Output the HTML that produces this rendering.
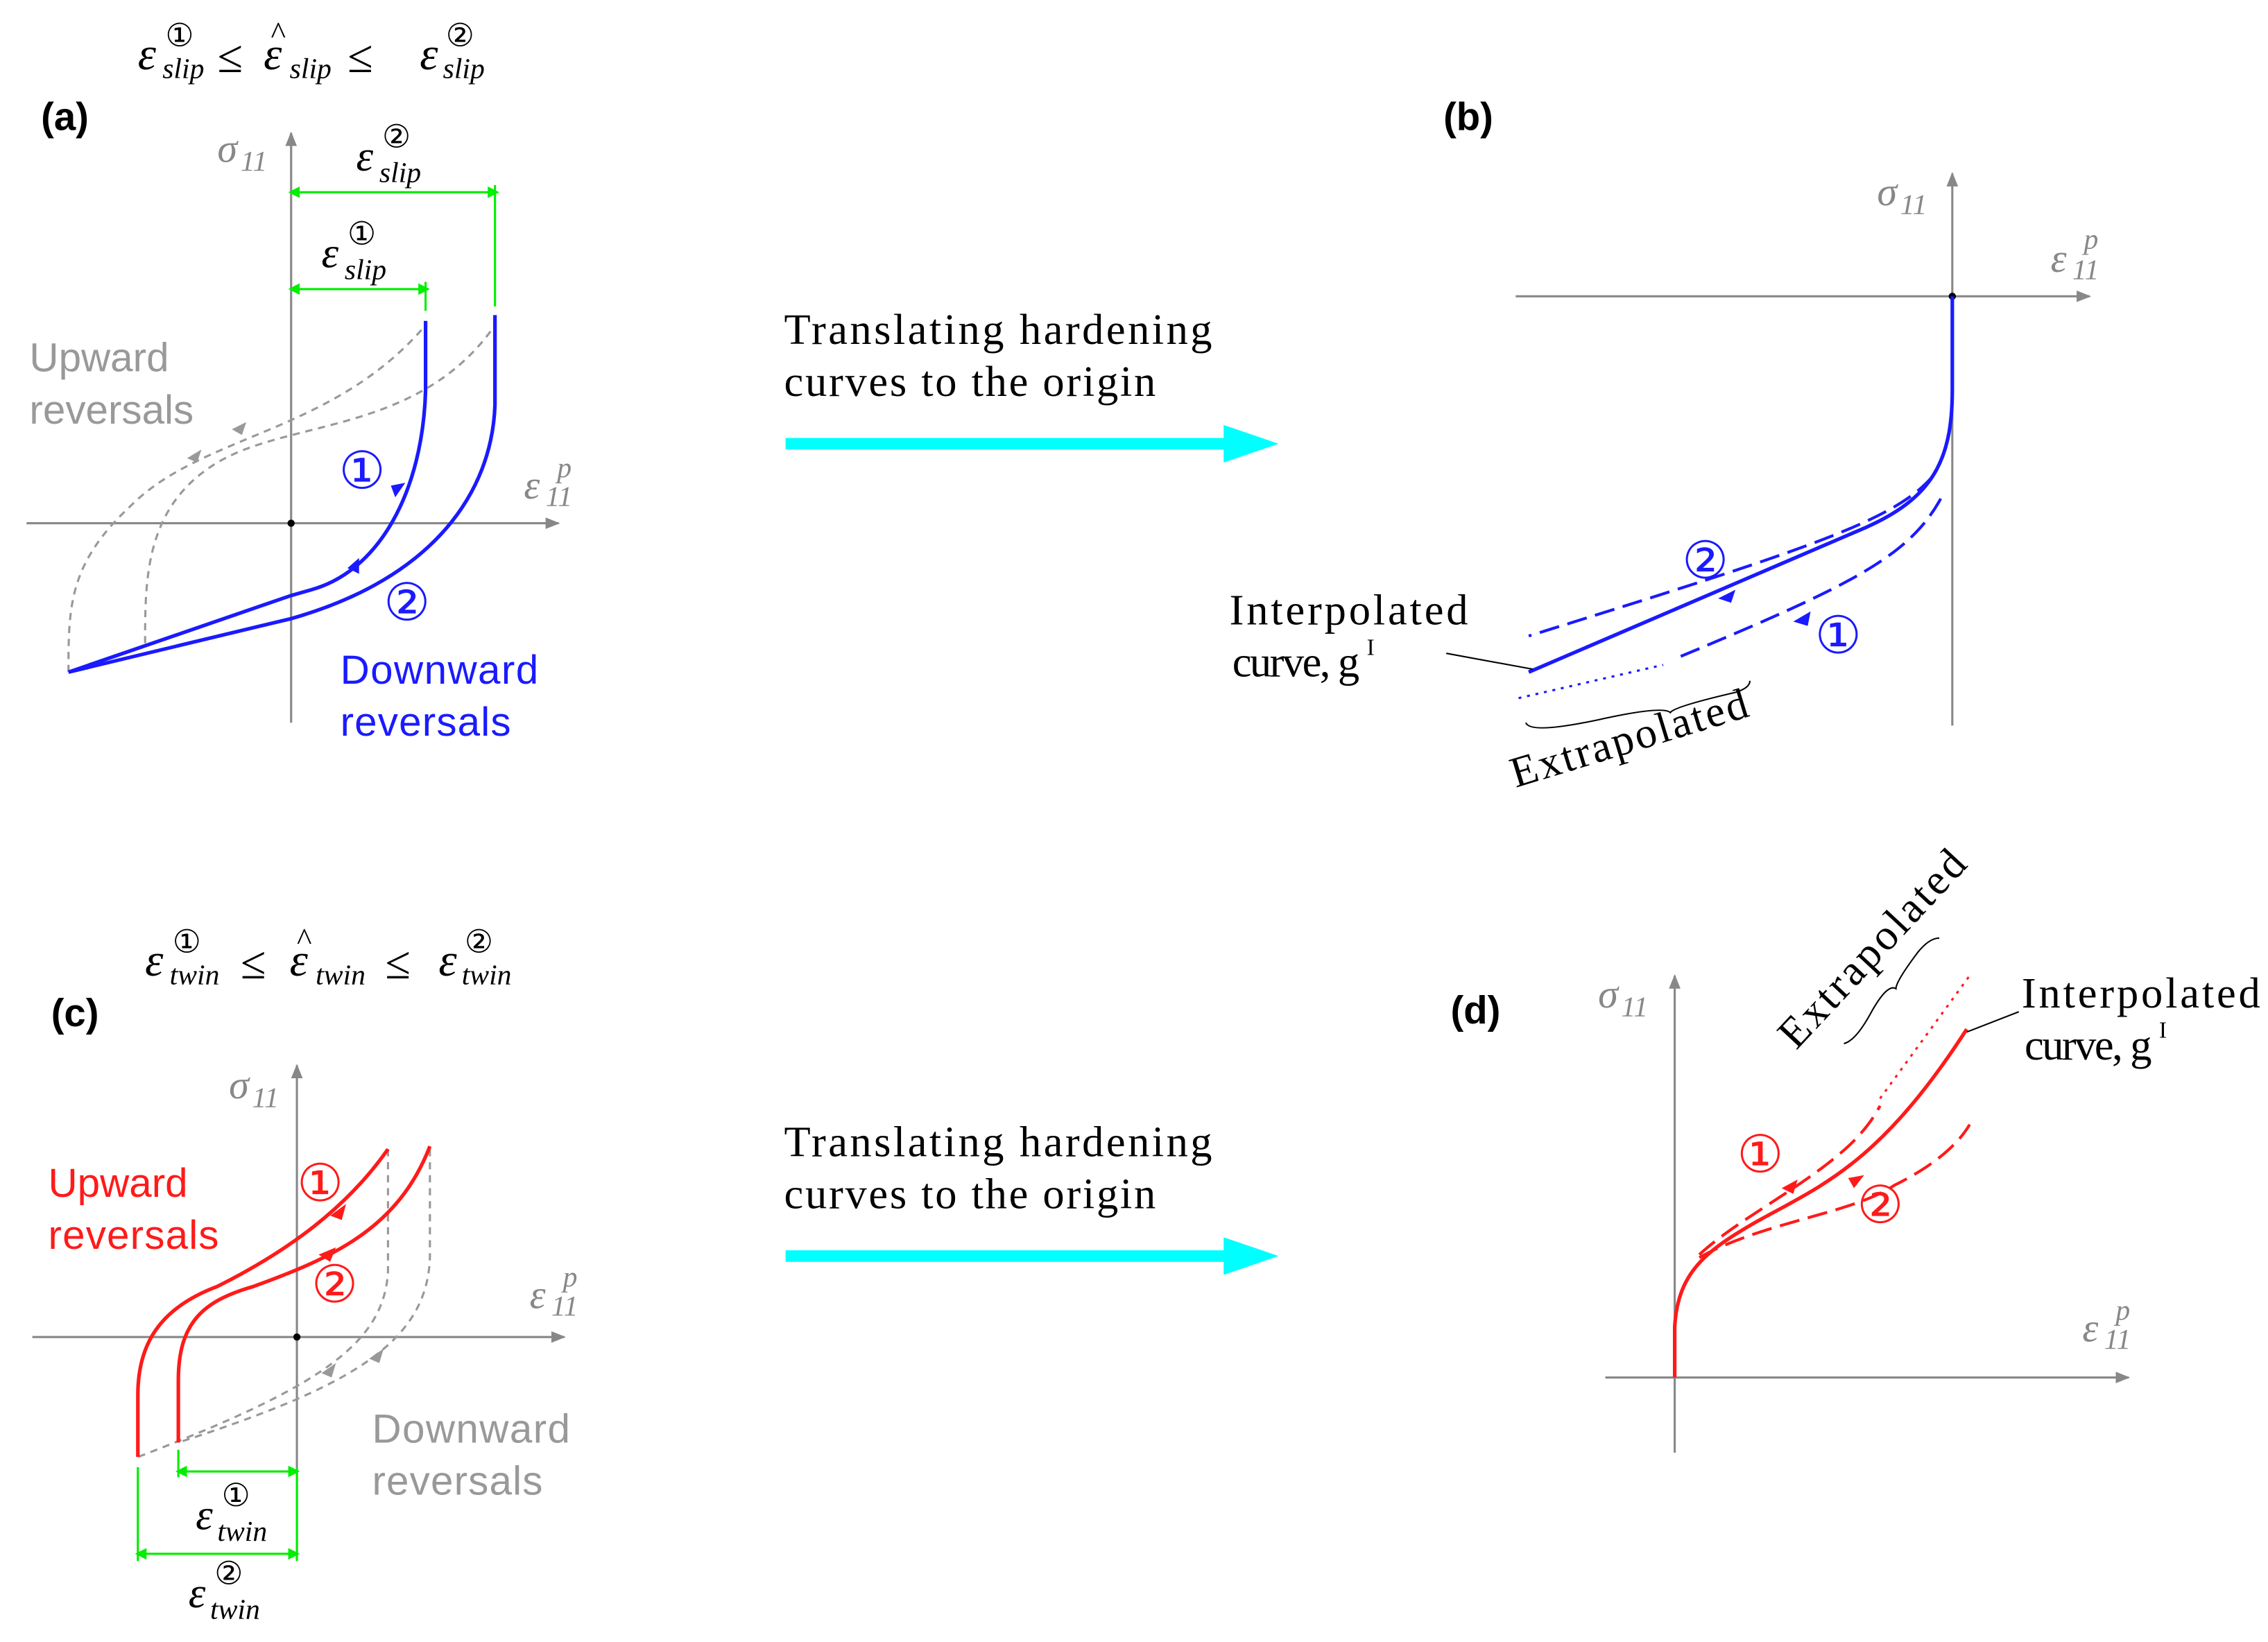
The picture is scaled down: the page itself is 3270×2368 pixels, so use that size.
<!DOCTYPE html>
<html><head><meta charset="utf-8"><style>
html,body{margin:0;padding:0;background:#fff}
svg{display:block}
.m{font-family:"Liberation Serif",serif;font-style:italic}
.s{font-family:"Liberation Sans",sans-serif}
.r{font-family:"Liberation Serif",serif}
.c{font-family:"DejaVu Sans",sans-serif}
</style></head><body>
<svg width="3270" height="2368" viewBox="0 0 1568 1136" xmlns="http://www.w3.org/2000/svg">
<defs>
<marker id="ga" markerWidth="10" markerHeight="10" refX="9" refY="5" orient="auto" markerUnits="userSpaceOnUse"><path d="M0,1 L10,5 L0,9 z" fill="#888"/></marker>
<marker id="gr" markerWidth="8" markerHeight="8" refX="4" refY="4" orient="auto" markerUnits="userSpaceOnUse"><path d="M0,0 L8,4 L0,8 z" fill="#00ee00"/></marker>
<marker id="gl" markerWidth="8" markerHeight="8" refX="4" refY="4" orient="auto-start-reverse" markerUnits="userSpaceOnUse"><path d="M0,0 L8,4 L0,8 z" fill="#00ee00"/></marker>
</defs>
<!-- ===== (a) ===== -->
<text x="95" y="48" class="m" font-size="32">ε</text><text x="114" y="32" class="c" font-size="22">①</text><text x="112" y="54" class="m" font-size="20">slip</text>
<text x="150" y="50" class="r" font-size="32">≤</text>
<text x="182" y="48" class="m" font-size="32">ε</text><text x="187" y="30" class="r" font-size="22">^</text><text x="200" y="54" class="m" font-size="20">slip</text>
<text x="240" y="50" class="r" font-size="32">≤</text>
<text x="290" y="48" class="m" font-size="32">ε</text><text x="308" y="32" class="c" font-size="22">②</text><text x="306" y="54" class="m" font-size="20">slip</text>
<text x="28" y="90" class="s" font-size="27" font-weight="bold">(a)</text>
<line x1="201" y1="500" x2="201" y2="92" stroke="#888" stroke-width="1.5" marker-end="url(#ga)"/>
<line x1="18" y1="362" x2="386" y2="362" stroke="#888" stroke-width="1.5" marker-end="url(#ga)"/>
<circle cx="201" cy="362" r="2.5" fill="#000"/>
<text x="150" y="112" class="m" font-size="28" fill="#888">σ</text><text x="166" y="118" class="m" font-size="20" fill="#888">11</text>
<text x="362" y="345" class="m" font-size="28" fill="#888">ε</text><text x="377" y="350" class="m" font-size="20" fill="#888">11</text><text x="385" y="330" class="m" font-size="20" fill="#888">p</text>
<line x1="203" y1="133" x2="341" y2="133" stroke="#00ee00" stroke-width="1.5" marker-start="url(#gl)" marker-end="url(#gr)"/>
<line x1="342" y1="128" x2="342" y2="212" stroke="#00ee00" stroke-width="1.5"/>
<line x1="203" y1="200" x2="293" y2="200" stroke="#00ee00" stroke-width="1.5" marker-start="url(#gl)" marker-end="url(#gr)"/>
<line x1="294" y1="195" x2="294" y2="215" stroke="#00ee00" stroke-width="1.5"/>
<text x="246" y="118" class="m" font-size="30">ε</text><text x="264" y="102" class="c" font-size="22">②</text><text x="262" y="126" class="m" font-size="20">slip</text>
<text x="222" y="185" class="m" font-size="30">ε</text><text x="240" y="169" class="c" font-size="22">①</text><text x="238" y="193" class="m" font-size="20">slip</text>
<path d="M47,465 C47,420 47,390 90,350 C140,300 230,300 294,225" fill="none" stroke="#999" stroke-width="1.5" stroke-dasharray="5,4"/>
<path d="M100,445 C100,400 100,350 150,320 C200,290 290,300 342,225" fill="none" stroke="#999" stroke-width="1.5" stroke-dasharray="5,4"/>
<path d="M129,317 l10,-6 l-3,9 z" fill="#999"/><path d="M160,297 l10,-5 l-3,9 z" fill="#999"/>
<path d="M294,222 L294,270 C292,340 262,395 215,408 L201,412 L47,465" fill="none" stroke="#1a1aff" stroke-width="2.5"/>
<path d="M342,218 L342,280 C340,340 300,400 201,428 L47,465" fill="none" stroke="#1a1aff" stroke-width="2.5"/>
<path d="M270,336 l10,-2 l-7,10 z" fill="#1a1aff"/><path d="M240,393 l8,-7 l0,11 z" fill="#1a1aff"/>
<text x="234" y="338" class="c" font-size="36" fill="#1a1aff">①</text>
<text x="265" y="429" class="c" font-size="36" fill="#1a1aff">②</text>
<text x="20" y="257" class="s" font-size="28" fill="#999">Upward</text><text x="20" y="293" class="s" font-size="28" fill="#999">reversals</text>
<text x="235" y="473" class="s" font-size="28" fill="#1a1aff" textLength="137">Downward</text><text x="235" y="509" class="s" font-size="28" fill="#1a1aff" textLength="118">reversals</text>
<!-- middle arrows -->
<text x="542" y="238" class="r" font-size="30" textLength="296">Translating hardening</text><text x="542" y="274" class="r" font-size="30" textLength="257">curves to the origin</text>
<rect x="543" y="303" width="305" height="8" fill="#00ffff"/><path d="M846,294 L884,307 L846,320 z" fill="#00ffff"/>
<text x="542" y="800" class="r" font-size="30" textLength="296">Translating hardening</text><text x="542" y="836" class="r" font-size="30" textLength="257">curves to the origin</text>
<rect x="543" y="865" width="305" height="8" fill="#00ffff"/><path d="M846,856 L884,869 L846,882 z" fill="#00ffff"/>
<!-- ===== (b) ===== -->
<text x="998" y="90" class="s" font-size="27" font-weight="bold">(b)</text>
<line x1="1048" y1="205" x2="1445" y2="205" stroke="#888" stroke-width="1.5" marker-end="url(#ga)"/>
<line x1="1350" y1="502" x2="1350" y2="120" stroke="#888" stroke-width="1.5" marker-end="url(#ga)"/>
<circle cx="1350" cy="205" r="2.5" fill="#000"/>
<text x="1298" y="142" class="m" font-size="28" fill="#888">σ</text><text x="1314" y="148" class="m" font-size="20" fill="#888">11</text>
<text x="1418" y="188" class="m" font-size="28" fill="#888">ε</text><text x="1433" y="193" class="m" font-size="20" fill="#888">11</text><text x="1441" y="172" class="m" font-size="20" fill="#888">p</text>
<path d="M1350,205 L1350,270 C1350,320 1335,345 1290,365 L1057,465" fill="none" stroke="#1a1aff" stroke-width="2.5"/>
<path d="M1336,330 C1310,360 1250,380 1057,440" fill="none" stroke="#1a1aff" stroke-width="2" stroke-dasharray="14,6"/>
<path d="M1342,345 C1320,385 1280,405 1160,455" fill="none" stroke="#1a1aff" stroke-width="2" stroke-dasharray="14,6"/>
<line x1="1050" y1="483" x2="1150" y2="460" stroke="#1a1aff" stroke-width="1.5" stroke-dasharray="2,4"/>
<path d="M1188,414 l12,-6 l-3,9 z" fill="#1a1aff"/><path d="M1240,430 l12,-7 l-2,10 z" fill="#1a1aff"/>
<text x="1163" y="400" class="c" font-size="36" fill="#1a1aff">②</text>
<text x="1255" y="452" class="c" font-size="36" fill="#1a1aff">①</text>
<text x="850" y="432" class="r" font-size="30" textLength="165">Interpolated</text><text x="852" y="468" class="r" font-size="30" textLength="88">curve, g</text><text x="945" y="453" class="r" font-size="16">I</text>
<line x1="1000" y1="452" x2="1060" y2="463" stroke="#000" stroke-width="1"/>
<path d="M1055,500 q3,8 50,-2 q45,-10 50,-5 q2,-4 45,-14 q10,-3 10,-8" fill="none" stroke="#000" stroke-width="1"/>
<text x="1048" y="545" class="r" font-size="30" textLength="170" transform="rotate(-17 1048 545)">Extrapolated</text>
<!-- ===== (c) ===== -->
<text x="100" y="675" class="m" font-size="32">ε</text><text x="119" y="659" class="c" font-size="22">①</text><text x="117" y="681" class="m" font-size="20">twin</text>
<text x="166" y="677" class="r" font-size="32">≤</text>
<text x="200" y="675" class="m" font-size="32">ε</text><text x="205" y="657" class="r" font-size="22">^</text><text x="218" y="681" class="m" font-size="20">twin</text>
<text x="266" y="677" class="r" font-size="32">≤</text>
<text x="303" y="675" class="m" font-size="32">ε</text><text x="321" y="659" class="c" font-size="22">②</text><text x="319" y="681" class="m" font-size="20">twin</text>
<text x="35" y="710" class="s" font-size="27" font-weight="bold">(c)</text>
<line x1="205" y1="1075" x2="205" y2="737" stroke="#888" stroke-width="1.5" marker-end="url(#ga)"/>
<line x1="22" y1="925" x2="390" y2="925" stroke="#888" stroke-width="1.5" marker-end="url(#ga)"/>
<circle cx="205" cy="925" r="2.5" fill="#000"/>
<text x="158" y="760" class="m" font-size="28" fill="#888">σ</text><text x="174" y="766" class="m" font-size="20" fill="#888">11</text>
<text x="366" y="905" class="m" font-size="28" fill="#888">ε</text><text x="381" y="910" class="m" font-size="20" fill="#888">11</text><text x="389" y="890" class="m" font-size="20" fill="#888">p</text>
<path d="M268,795 L268,880 C265,930 220,960 95,1008" fill="none" stroke="#999" stroke-width="1.5" stroke-dasharray="5,4"/>
<path d="M297,795 L297,870 C295,930 240,960 123,998" fill="none" stroke="#999" stroke-width="1.5" stroke-dasharray="5,4"/>
<path d="M222,950 l10,-7 l-3,10 z" fill="#999"/><path d="M255,940 l10,-7 l-3,10 z" fill="#999"/>
<path d="M95,1008 L95,965 C95,930 110,905 150,890 C200,865 240,835 268,795" fill="none" stroke="#ff1a1a" stroke-width="2.5"/>
<path d="M123,998 L123,955 C123,915 140,900 175,890 C230,870 275,850 297,793" fill="none" stroke="#ff1a1a" stroke-width="2.5"/>
<path d="M228,841 l11,-8 l-3,11 z" fill="#ff1a1a"/><path d="M220,868 l12,-5 l-4,10 z" fill="#ff1a1a"/>
<text x="205" y="831" class="c" font-size="36" fill="#ff1a1a">①</text>
<text x="215" y="901" class="c" font-size="36" fill="#ff1a1a">②</text>
<text x="33" y="828" class="s" font-size="28" fill="#ff1a1a">Upward</text><text x="33" y="864" class="s" font-size="28" fill="#ff1a1a" textLength="118">reversals</text>
<text x="257" y="998" class="s" font-size="28" fill="#999" textLength="137">Downward</text><text x="257" y="1034" class="s" font-size="28" fill="#999" textLength="118">reversals</text>
<line x1="95" y1="1015" x2="95" y2="1080" stroke="#00ee00" stroke-width="1.5"/>
<line x1="205" y1="1015" x2="205" y2="1080" stroke="#00ee00" stroke-width="1.5"/>
<line x1="123" y1="1003" x2="123" y2="1022" stroke="#00ee00" stroke-width="1.5"/>
<line x1="125" y1="1018" x2="203" y2="1018" stroke="#00ee00" stroke-width="1.5" marker-start="url(#gl)" marker-end="url(#gr)"/>
<line x1="97" y1="1075" x2="203" y2="1075" stroke="#00ee00" stroke-width="1.5" marker-start="url(#gl)" marker-end="url(#gr)"/>
<text x="135" y="1058" class="m" font-size="30">ε</text><text x="153" y="1042" class="c" font-size="22">①</text><text x="150" y="1066" class="m" font-size="20">twin</text>
<text x="130" y="1112" class="m" font-size="30">ε</text><text x="148" y="1096" class="c" font-size="22">②</text><text x="145" y="1120" class="m" font-size="20">twin</text>
<!-- ===== (d) ===== -->
<text x="1003" y="708" class="s" font-size="27" font-weight="bold">(d)</text>
<line x1="1158" y1="1005" x2="1158" y2="675" stroke="#888" stroke-width="1.5" marker-end="url(#ga)"/>
<line x1="1110" y1="953" x2="1472" y2="953" stroke="#888" stroke-width="1.5" marker-end="url(#ga)"/>
<text x="1105" y="697" class="m" font-size="28" fill="#888">σ</text><text x="1121" y="703" class="m" font-size="20" fill="#888">11</text>
<text x="1440" y="928" class="m" font-size="28" fill="#888">ε</text><text x="1455" y="933" class="m" font-size="20" fill="#888">11</text><text x="1463" y="913" class="m" font-size="20" fill="#888">p</text>
<path d="M1158,953 L1158,918 C1160,880 1180,865 1215,845 C1260,820 1300,805 1360,712" fill="none" stroke="#ff1a1a" stroke-width="2.5"/>
<path d="M1175,868 C1200,845 1240,825 1270,800 C1285,788 1295,775 1300,765" fill="none" stroke="#ff1a1a" stroke-width="2" stroke-dasharray="14,6"/>
<path d="M1175,870 C1220,845 1280,840 1310,820 C1340,805 1355,790 1362,778" fill="none" stroke="#ff1a1a" stroke-width="2" stroke-dasharray="14,6"/>
<line x1="1300" y1="760" x2="1362" y2="675" stroke="#ff1a1a" stroke-width="1.5" stroke-dasharray="2,4"/>
<path d="M1232,822 l11,-6 l-3,10 z" fill="#ff1a1a"/><path d="M1278,815 l11,-2 l-7,9 z" fill="#ff1a1a"/>
<text x="1201" y="811" class="c" font-size="36" fill="#ff1a1a">①</text>
<text x="1284" y="846" class="c" font-size="36" fill="#ff1a1a">②</text>
<path d="M1275,722 q8,-2 18,-20 q12,-22 18,-18 q0,-5 15,-25 q8,-10 15,-10" fill="none" stroke="#000" stroke-width="1"/>
<text x="1242" y="727" class="r" font-size="30" textLength="175" transform="rotate(-47 1242 727)">Extrapolated</text>
<text x="1398" y="697" class="r" font-size="30" textLength="165">Interpolated</text><text x="1400" y="733" class="r" font-size="30" textLength="88">curve, g</text><text x="1493" y="718" class="r" font-size="16">I</text>
<line x1="1396" y1="700" x2="1360" y2="714" stroke="#000" stroke-width="1"/>
</svg>
</body></html>
